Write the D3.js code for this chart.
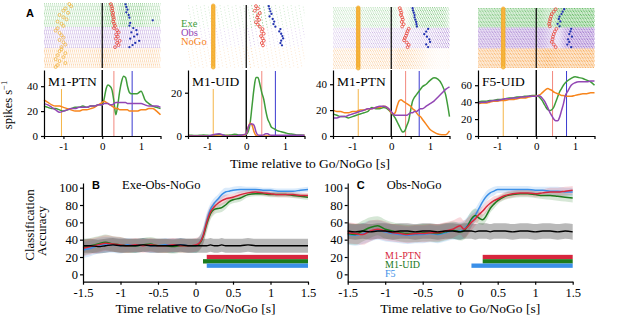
<!DOCTYPE html>
<html lang="en">
<head>
<meta charset="UTF-8">
<title>Go/NoGo single units and decoding</title>
<script src="https://d3js.org/d3.v7.min.js"></script>
<style>
body { margin: 0; background: #fff; }
svg { font-family: "Liberation Serif", "Times New Roman", serif; }
.axis path, .axis line { stroke: #000; stroke-width: 1.2; }
.axis text { font-family: "Liberation Serif", serif; fill: #000; }
.letter { font-family: "Liberation Sans", Arial, sans-serif; font-weight: bold; font-size: 11px; }
</style>
</head>
<body>
<svg id="fig" width="617" height="317"></svg>
<script>
// ---------- panel A : PSTH (spikes/s) ----------
const tPsth = [-1.5,-1.4,-1.3,-1.2,-1.1,-1.0,-0.9,-0.8,-0.7,-0.6,-0.5,-0.4,-0.3,-0.2,-0.1,0,
  0.05,0.1,0.15,0.2,0.25,0.3,0.35,0.4,0.45,0.5,0.55,0.6,0.65,0.7,0.75,0.8,
  0.9,1.0,1.1,1.2,1.3,1.4,1.5];

const ptn1Exe  = [24,23,22,22,21,20,21,22,23,23,24,23,24,24,25,25, 30,38,41,40,37,28,17,25,36,44,48,47,40,35,34,34, 34,36,29,26,24,23,22];
const ptn1Obs  = [26,25,23,21,19,20,21,22,22,23,23,23,24,24,25,25, 26,26,26,25,25,26,27,27,27,27,27,27,26,26,26,26, 26,26,25,24,24,24,23];
const ptn1NoGo = [29,27,25,24,24,23,22,21,20,20,21,21,22,23,25,27, 28,27,26,25,24,23,22,22,21,21,21,21,21,20,20,20, 20,21,21,22,22,20,17];

const uidExe  = [0.3,0.3,0.2,0.3,0.5,0.3,0.2,0.5,0.8,0.5,0.3,0.5,0.8,0.5,0.5,0.8, 2,6,14,22,27,27,24,20,17,12,8,6,4,3.5,3,2.5, 2,1.5,1,0.8,0.5,0.5,0.3];
const uidObs  = [0,0,0,0,0,0,0.3,0.8,1,0.5,0,0,0,0.3,0.5,1, 4,5.5,5.5,5,2,0.5,0.3,0.3,0.5,1,1,0.5,0.3,0.3,0.3,0.3, 0.3,0.3,0.3,0.3,0.3,0.3,0.3];
const uidNoGo = [0.2,0,0,0,0,0,0,0,0,0,0.2,0,0,0,0.3,1, 4,6,5,2,0.3,0,0,0,0,0,0,0,0,0,0,0, 0,0,0,0,0,0,0.2];

const ptn2Exe  = [17,16,15,15,14,15,16,17,18,19,22,21,21,22,21,18, 16,14,11,8,5,3,4,8,12,20,27,30,32,34,36,38, 40,43,45,44,40,32,15];
const ptn2Obs  = [14,14,15,15,16,17,18,19,20,21,21,22,23,23,22,19, 17,16,16,16,16,16,16,16,17,18,18,19,19,20,21,21, 23,25,27,30,33,36,38];
const ptn2NoGo = [20,19,19,18,18,19,19,20,20,21,21,22,22,23,22,18, 17,18,23,27,28,27,26,25,24,23,21,20,18,16,15,13, 9,5,3,1.5,1,1,4];

const f5Exe  = [40,41,41,42,42,43,43,44,45,45,46,46,47,47,48,48, 47,45,42,38,34,31,30,31,34,40,46,52,56,60,63,65, 68,70,69,68,66,64,60];
const f5Obs  = [39,40,40,41,42,42,43,44,44,45,45,46,46,47,47,47, 48,47,45,42,38,33,28,24,20,18,18,22,30,38,48,52, 60,63,64,64,64,65,65];
const f5NoGo = [38,39,39,40,41,41,42,42,43,43,44,45,45,46,47,47, 48,49,51,53,55,56,55,54,52,51,50,49,48,48,47,47, 47,48,49,50,50,51,51];

const unitNames = ["M1-PTN", "M1-UID", "M1-PTN", "F5-UID"];
const psthMax   = [53, 30.5, 51, 78];
const psthTicks = [[0,20,40], [0,20], [0,20,40], [0,20,40,60]];
const cueLine   = [-1.05, -0.85, -0.85, -0.85];
const moveLine  = [0.30, 0.40, 0.37, 0.42];
const holdLine  = [0.77, 0.75, 0.72, 0.78];

// trials per condition (Exe, Obs, NoGo) in each raster
const trialCounts = [[17,15,14], [16,13,15], [15,15,15], [14,15,14]];

// raster event markers, one per shown trial
const cueExeP1  = [-0.85,-0.8,-0.95,-1.0,-0.88,-1.1,-1.0,-0.92,-1.15,-1.05,-1.0];
const cueObsP1  = [-1.15,-1.2,-1.1,-1.05,-1.0,-1.1,-1.0,-0.95,-1.05];
const cueNoGoP1 = [-1.05,-1.1,-0.95,-1.15,-1.0,-1.2,-1.1,-0.95,-1.15,-1.2];

const redExe  = [[0.22,0.24,0.26,0.25,0.28,0.27,0.29,0.30,0.28,0.31,0.33],
                 [0.25,0.30,0.22,0.35,0.30,0.28,0.33,0.25,0.30,0.35],
                 [0.22,0.24,0.26,0.25,0.28,0.30,0.27,0.32,0.28],
                 [0.50,0.45,0.40,0.38,0.36,0.35,0.33,0.35]];
const redObs  = [[0.30,0.38,0.42,0.36,0.40,0.35,0.45,0.38,0.42,0.33],
                 [0.42,0.40,0.45,0.38,0.42,0.45,0.40,0.43],
                 [0.45,0.42,0.40,0.38,0.35,0.33,0.40,0.45,0.42],
                 [0.52,0.48,0.45,0.43,0.42,0.40,0.45,0.50]];
const blueExe = [[0.60,0.62,0.65,0.62,0.68,0.70,1.30,0.72,0.70],
                 [0.58,0.60,0.62,0.65,0.60,0.68,0.72,0.70,0.75],
                 [0.55,0.56,0.58,0.60,0.60,0.62,0.64,0.65,0.66],
                 [0.72,0.68,0.65,0.60,0.58,0.62,0.55,0.60]];
const blueObs = [[0.80,0.88,0.75,0.90,0.82,0.72,0.95,0.85,0.78,0.70],
                 [0.88,0.85,0.90,0.93,0.95,0.90,0.88,0.92],
                 [0.95,0.90,0.85,0.92,0.98,1.00,0.90,0.95],
                 [0.90,0.88,0.85,0.92,0.82,0.85,0.80,0.90]];

// ---------- panels B, C : classification accuracy (%) ----------
const tAcc = [-1.5,-1.4,-1.3,-1.2,-1.1,-1.0,-0.9,-0.8,-0.7,-0.6,-0.5,-0.4,-0.3,-0.2,-0.1,0,
  0.05,0.1,0.15,0.2,0.25,0.3,0.35,0.4,0.45,0.5,
  0.6,0.7,0.8,0.9,1.0,1.1,1.2,1.3,1.4,1.5];

const accPtnB   = [30,32,34,36,35,34,33,34,33,34,33,33,34,33,33,34, 36,44,60,72,78,82,85,87,88,89, 92,94,95,94,93,92,92,92,91,91];
const accUidB   = [31,33,35,37,35,34,33,33,34,35,33,33,32,33,33,33, 35,43,58,70,75,76,77,80,84,86, 88,92,93,93,92,92,92,91,90,89];
const accF5B    = [28,30,33,34,34,33,34,33,34,33,33,34,33,34,33,33, 36,45,62,75,82,87,92,95,96,97, 98,98,98,97,97,96,96,96,97,98];
const chanceB   = [33,33,32,33,34,33,33,33,34,33,33,33,33,34,33,33, 33,33,33,34,33,33,34,33,33,33, 33,34,33,33,33,33,33,33,33,33];
const spreadB   = [9,9,9,9,9,9,8,8,8,8,8,8,8,8,8,8, 8,9,9,7,6,5,5,5,4,4, 4,3,3,3,3,3,3,3,3,3];

const accPtnC   = [48,47,46,50,52,50,48,47,46,47,47,48,48,50,52,56, 52,55,60,64,69,73,78,82,85,87, 91,93,94,94,93,94,95,95,96,97];
const accUidC   = [47,46,50,54,56,52,50,48,47,47,48,48,47,49,51,49, 50,56,64,68,65,63,68,76,81,85, 90,92,93,93,92,91,91,90,89,88];
const accF5C    = [46,45,47,50,51,49,47,46,45,46,46,47,46,48,50,50, 52,57,63,68,76,84,90,94,96,98, 98,98,98,98,97,97,96,96,95,95];
const chanceC   = [50,49,50,49,50,50,49,50,50,49,50,50,49,50,50,49, 50,50,50,49,50,50,50,49,50,50, 50,49,50,50,49,50,50,49,50,49];
const spreadC   = [12,12,12,12,11,11,10,10,10,10,10,10,10,10,10,10, 10,10,9,8,7,6,6,5,5,4, 4,4,4,4,4,4,5,5,5,5];

const chanceSpread = [8, 9];
const sigStartB = [0.15, 0.10, 0.15];   // M1-PTN, M1-UID, F5
const sigStartC = [0.30, 0.30, 0.15];
const sigLevels = [20, 15, 10];
const areaNames = ["M1-PTN", "M1-UID", "F5"];

// ---------- drawing ----------
const svg = d3.select("#fig");
const defs = svg.append("defs");

const condCol  = ["#3f9c3a", "#9246b4", "#f7851c"];
const rastCol  = ["#6cbf6c", "#a279cf", "#f8a955"];
const areaCol  = ["#d7263d", "#1c7a1c", "#3a8fe8"];

const colX = [44, 188, 333, 478], colW = 116.5;
const rasterTop = [3, 5, 7, 8], rasterBot = [68, 68, 69, 68];
const psthTop = 70, psthBot = 136;
// dot texture of the raster rows: dash, gap, row shift, floor opacity, line width
const rastStyle = [
  {dash: "0.9 1.1", gap: 2, floor: 0.08, w: 1.0},
  {dash: "0.9 7",   gap: 7.9, floor: 0.3, w: 1.0},
  {dash: "0.9 1.3", gap: 2.2, floor: 0.08, w: 1.0},
  {dash: "1 0.6",   gap: 1.6, floor: 0.1, w: 1.25}
];

const psthSets = [
  [ptn1Exe, ptn1Obs, ptn1NoGo],
  [uidExe, uidObs, uidNoGo],
  [ptn2Exe, ptn2Obs, ptn2NoGo],
  [f5Exe, f5Obs, f5NoGo]
];

function marks(g, times, x, y0, y1, kind) {
  const h = (y1 - y0) / times.length;
  const sel = g.selectAll(null).data(times).enter().append("circle")
    .attr("cx", d => x(d))
    .attr("cy", (d, k) => y0 + (k + 0.5) * h);
  if (kind == "red") sel.attr("r", 1.45).attr("fill", "none").attr("stroke", "#e8483c").attr("stroke-width", 0.8);
  if (kind == "blue") sel.attr("r", 1.15).attr("fill", "#2233b0");
  if (kind == "cue") sel.attr("r", 1.5).attr("fill", "none").attr("stroke", "#f2b035").attr("stroke-width", 0.7);
}

psthSets.forEach((set, i) => {
  const x = d3.scaleLinear().domain([-1.5, 1.5]).range([colX[i], colX[i] + colW]);
  const y = d3.scaleLinear().domain([0, psthMax[i]]).range([psthBot, psthTop]);
  const g = svg.append("g");
  const st = rastStyle[i];

  // raster rows, shaded by the condition's rate
  const counts = trialCounts[i];
  const total = d3.sum(counts);
  const rowH = (rasterBot[i] - rasterTop[i]) / total;
  let cum = 0;
  const bands = [];
  counts.forEach((n, c) => {
    const gid = "g" + i + c;
    const grad = defs.append("linearGradient").attr("id", gid)
      .attr("gradientUnits", "userSpaceOnUse")
      .attr("x1", x(-1.5)).attr("x2", x(1.5)).attr("y1", 0).attr("y2", 0);
    tPsth.forEach((t, k) => {
      grad.append("stop").attr("offset", (t + 1.5) / 3)
        .attr("stop-color", rastCol[c])
        .attr("stop-opacity", Math.min(1, st.floor + set[c][k] / (psthMax[i] * 0.8)));
    });
    const y0 = rasterTop[i] + cum * rowH;
    for (let r = 0; r < n; r++) {
      g.append("line")
        .attr("x1", x(-1.5)).attr("x2", x(1.5))
        .attr("y1", y0 + (r + 0.5) * rowH).attr("y2", y0 + (r + 0.5) * rowH)
        .attr("stroke", "url(#" + gid + ")")
        .attr("stroke-width", st.w)
        .attr("stroke-dasharray", st.dash)
        .attr("stroke-dashoffset", ((cum + r) * 3.7) % st.gap);
    }
    bands.push([y0, y0 + n * rowH]);
    cum += n;
  });

  // cue markers
  if (i == 0) {
    marks(g, cueExeP1, x, bands[0][0], bands[0][1], "cue");
    marks(g, cueObsP1, x, bands[1][0], bands[1][1], "cue");
    marks(g, cueNoGoP1, x, bands[2][0], bands[2][1], "cue");
  } else {
    g.append("g").selectAll("circle").data(d3.range(total)).enter().append("circle")
      .attr("cx", x(cueLine[i]))
      .attr("cy", r => rasterTop[i] + (r + 0.5) * rowH)
      .attr("r", 1.8).attr("fill", "#f9c24e").attr("stroke", "#f0a020").attr("stroke-width", 0.6);
  }
  g.append("line").attr("x1", x(0)).attr("x2", x(0))
    .attr("y1", rasterTop[i]).attr("y2", rasterBot[i])
    .attr("stroke", "#000").attr("stroke-width", 1.2);
  marks(g, redExe[i], x, bands[0][0], bands[0][1], "red");
  marks(g, redObs[i], x, bands[1][0], bands[1][1], "red");
  marks(g, blueExe[i], x, bands[0][0], bands[0][1], "blue");
  marks(g, blueObs[i], x, bands[1][0], bands[1][1], "blue");

  // event lines in PSTH
  g.append("line").attr("x1", x(cueLine[i])).attr("x2", x(cueLine[i]))
    .attr("y1", psthTop + 19).attr("y2", psthBot).attr("stroke", "#f5b547").attr("stroke-width", 1);
  g.append("line").attr("x1", x(moveLine[i])).attr("x2", x(moveLine[i]))
    .attr("y1", psthTop + 1).attr("y2", psthBot).attr("stroke", "#f2887e").attr("stroke-width", 1);
  g.append("line").attr("x1", x(holdLine[i])).attr("x2", x(holdLine[i]))
    .attr("y1", psthTop + 1).attr("y2", psthBot).attr("stroke", "#3a3ad0").attr("stroke-width", 1);
  g.append("line").attr("x1", x(0)).attr("x2", x(0))
    .attr("y1", psthTop).attr("y2", psthBot).attr("stroke", "#000").attr("stroke-width", 1.4);

  const line = d3.line().x((d, k) => x(tPsth[k])).y(d => y(d)).curve(d3.curveMonotoneX);
  [0, 2, 1].forEach(c => {
    g.append("path").datum(set[c]).attr("d", line)
      .attr("fill", "none").attr("stroke", condCol[c]).attr("stroke-width", 1.5);
  });

  g.append("g").attr("class", "axis").attr("transform", `translate(0,${psthBot})`)
    .call(d3.axisBottom(x).tickValues([-1.5,-1,-0.5,0,0.5,1,1.5])
      .tickFormat(d => Number.isInteger(d) ? String(d) : "").tickSize(3).tickSizeOuter(0))
    .selectAll("text").style("font-size", "11px");
  g.append("g").attr("class", "axis").attr("transform", `translate(${colX[i]},0)`)
    .call(d3.axisLeft(y).tickValues(psthTicks[i]).tickFormat(d => String(d)).tickSize(3).tickSizeOuter(0))
    .selectAll("text").style("font-size", "11px");

  g.append("text").attr("x", colX[i] + 4).attr("y", 86)
    .style("font-size", "13.5px").text(unitNames[i]);
});

// condition legend
["Exe", "Obs", "NoGo"].forEach((s, c) => {
  svg.append("text").attr("x", 181).attr("y", 27 + c * 9)
    .style("font-size", "10.5px").attr("fill", condCol[c]).text(s);
});

svg.append("text").attr("class", "letter").attr("x", 26).attr("y", 17).text("A");
svg.append("text").attr("transform", "translate(12,105) rotate(-90)")
  .attr("text-anchor", "middle").style("font-size", "12.5px")
  .text("spikes s").append("tspan").attr("baseline-shift", "super").style("font-size", "8.5px").text("\u22121");
svg.append("text").attr("x", 310).attr("y", 168).attr("text-anchor", "middle")
  .style("font-size", "13.5px").text("Time relative to Go/NoGo [s]");

// accuracy panels
const accPanels = [
  {x0: 83, letter: "B", title: "Exe-Obs-NoGo", curves: [accPtnB, accUidB, accF5B], chance: chanceB, spread: spreadB, sig: sigStartB},
  {x0: 347.7, letter: "C", title: "Obs-NoGo", curves: [accPtnC, accUidC, accF5C], chance: chanceC, spread: spreadC, sig: sigStartC}
];

accPanels.forEach((p, j) => {
  const x = d3.scaleLinear().domain([-1.5, 1.5]).range([p.x0, p.x0 + 225]);
  const y = d3.scaleLinear().domain([-8.5, 105.4]).range([281.7, 183]);
  const g = svg.append("g");

  const area = (vals, sp) => d3.area()
    .x((d, k) => x(tAcc[k]))
    .y0((d, k) => y(vals[k] - (Array.isArray(sp) ? sp[k] : sp)))
    .y1((d, k) => y(vals[k] + (Array.isArray(sp) ? sp[k] : sp)))
    .curve(d3.curveMonotoneX)(vals);
  const line = d3.line().x((d, k) => x(tAcc[k])).y(d => y(d)).curve(d3.curveMonotoneX);

  g.append("path").attr("d", area(p.chance, chanceSpread[j])).attr("fill", "#8a8a8a").attr("opacity", 0.6);
  [2, 1, 0].forEach(c => {
    g.append("path").attr("d", area(p.curves[c], p.spread)).attr("fill", areaCol[c]).attr("opacity", 0.18);
  });
  [2, 1, 0].forEach(c => {
    g.append("path").datum(p.curves[c]).attr("d", line)
      .attr("fill", "none").attr("stroke", areaCol[c]).attr("stroke-width", 1.5);
  });
  g.append("path").datum(p.chance).attr("d", line)
    .attr("fill", "none").attr("stroke", "#000").attr("stroke-width", 1.4);

  // significance bars
  p.sig.forEach((s, c) => {
    g.append("rect").attr("x", x(s)).attr("width", x(1.5) - x(s))
      .attr("y", y(sigLevels[c] + 2.5)).attr("height", y(sigLevels[c] - 2.5) - y(sigLevels[c] + 2.5))
      .attr("fill", areaCol[c]);
  });

  g.append("g").attr("class", "axis").attr("transform", "translate(0,281.7)")
    .call(d3.axisBottom(x).tickValues([-1.5,-1,-0.5,0,0.5,1,1.5]).tickFormat(d => String(d)).tickSize(3).tickPadding(3.5).tickSizeOuter(0))
    .selectAll("text").style("font-size", "12.5px");
  g.append("g").attr("class", "axis").attr("transform", `translate(${p.x0},0)`)
    .call(d3.axisLeft(y).tickValues([0,20,40,60,80,100]).tickSize(3).tickPadding(2).tickSizeOuter(0))
    .selectAll("text").style("font-size", "12.5px");

  g.append("text").attr("class", "letter").attr("x", p.x0 + 9).attr("y", 189).text(p.letter);
  g.append("text").attr("x", p.x0 + 39).attr("y", 189).style("font-size", "12.5px").text(p.title);
  g.append("text").attr("x", p.x0 + 112.5).attr("y", 313).attr("text-anchor", "middle")
    .style("font-size", "13.5px").text("Time relative to Go/NoGo [s]");
});

// area legend in C
areaNames.forEach((s, c) => {
  svg.append("text").attr("x", 385).attr("y", 259 + c * 9)
    .style("font-size", "10px").attr("fill", areaCol[c]).text(s);
});

svg.append("text").attr("transform", "translate(34,225) rotate(-90)")
  .attr("text-anchor", "middle").style("font-size", "13px").text("Classification");
svg.append("text").attr("transform", "translate(46,231) rotate(-90)")
  .attr("text-anchor", "middle").style("font-size", "13px").text("Accuracy");
</script>
</body>
</html>
